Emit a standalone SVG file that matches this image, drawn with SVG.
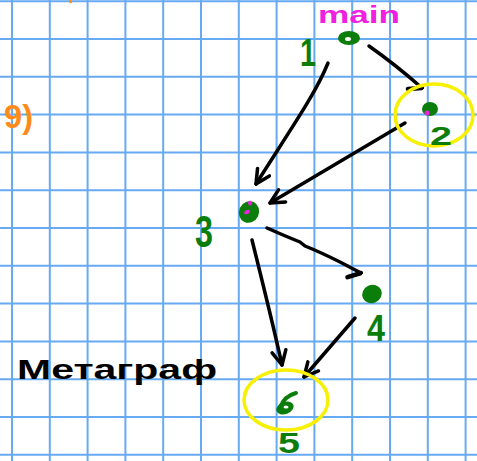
<svg xmlns="http://www.w3.org/2000/svg" width="477" height="461" viewBox="0 0 477 461">
<style>
.grid{stroke:#66aaf2;stroke-width:2;fill:none}
.edge{stroke:#000;stroke-width:3.5;fill:none;stroke-linecap:round;stroke-linejoin:round}
.dot{fill:#0a7d0a}
.mag{fill:#f020e0}
.ring{fill:none;stroke:#f7f000;stroke-width:3.5}
.num{fill:#0a7d0a;font-family:"Liberation Sans",Arial,sans-serif;font-weight:bold}
.hand{font-family:"Liberation Sans",Arial,sans-serif;font-weight:bold}
</style>
<defs>
<marker id="v" viewBox="0 0 18 18" refX="16" refY="9" markerWidth="18" markerHeight="18" markerUnits="userSpaceOnUse" orient="auto">
<path d="M2,2 L16,9 L2,16" fill="none" stroke="#000" stroke-width="3.5" stroke-linecap="round" stroke-linejoin="round"/>
</marker>
<marker id="hook" viewBox="0 0 18 18" refX="16" refY="5" markerWidth="18" markerHeight="18" markerUnits="userSpaceOnUse" orient="auto">
<path d="M16,5 L6,15" fill="none" stroke="#000" stroke-width="4.5" stroke-linecap="round"/>
</marker>
</defs>
<rect width="477" height="461" fill="#fff"/>
<path class="grid" d="M12,0V461M49.8,0V461M87.6,0V461M125.4,0V461M163.2,0V461M201,0V461M238.8,0V461M276.6,0V461M314.4,0V461M352.2,0V461M390,0V461M427.8,0V461M465.6,0V461M0,1.2H477M0,39H477M0,76.8H477M0,114.6H477M0,152.4H477M0,190.2H477M0,228H477M0,265.8H477M0,303.6H477M0,341.4H477M0,379.2H477M0,417H477M0,454.8H477"/>
<path d="M70,0 L71,3" stroke="#ff8c1a" stroke-width="2.5" fill="none"/>
<text class="hand" x="4" y="128" font-size="34" fill="#ff8c1a" textLength="29" lengthAdjust="spacingAndGlyphs">9)</text>
<text class="hand" x="17" y="379" font-size="28" fill="#000" textLength="200" lengthAdjust="spacingAndGlyphs">Метаграф</text>
<g id="edges">
<path class="edge" d="M369,46 C386,58 405,73 422,88" marker-end="url(#hook)"/>
<path class="edge" d="M328,63 C315,95 290,130 256,184" marker-end="url(#v)"/>
<path class="edge" d="M405,123 L270,203" marker-end="url(#v)"/>
<path class="edge" d="M267,228 Q285,236 300,242 L305,246 Q320,252 340,262 L361,273" marker-end="url(#hook)"/>
<path class="edge" d="M252,240 C262,280 272,320 282,365" marker-end="url(#v)"/>
<path class="edge" d="M355,318 L304,377" marker-end="url(#v)"/>
</g>
<g id="node1">
<ellipse class="dot" cx="349" cy="38" rx="11" ry="7"/>
<ellipse cx="348" cy="39" rx="3" ry="2" fill="#fff"/>
<text class="hand" x="318" y="23" font-size="24" fill="#f020e0" textLength="82" lengthAdjust="spacingAndGlyphs">main</text>
<text class="num" x="300" y="66" font-size="38" textLength="16" lengthAdjust="spacingAndGlyphs">1</text>
</g>
<g id="node2">
<ellipse class="ring" cx="434" cy="115" rx="39" ry="31"/>
<ellipse class="dot" cx="430" cy="109" rx="8" ry="7"/>
<circle class="mag" cx="427" cy="113" r="2.5"/>
<text class="num" x="430" y="145" font-size="25" textLength="22" lengthAdjust="spacingAndGlyphs">2</text>
</g>
<g id="node3">
<ellipse class="dot" cx="249" cy="212" rx="10" ry="11" transform="rotate(25 249 212)"/>
<ellipse class="mag" cx="250" cy="203" rx="2" ry="2.5"/>
<ellipse class="mag" cx="247" cy="212" rx="3" ry="2" transform="rotate(-25 247 212)"/>
<text class="num" x="195" y="247" font-size="44" textLength="18" lengthAdjust="spacingAndGlyphs">3</text>
</g>
<g id="node4">
<ellipse class="dot" cx="372" cy="294" rx="10" ry="9" transform="rotate(-25 372 294)"/>
<text class="num" x="367" y="341" font-size="36" textLength="18" lengthAdjust="spacingAndGlyphs">4</text>
</g>
<g id="node5">
<ellipse class="ring" cx="286" cy="400" rx="42" ry="30"/>
<ellipse class="dot" cx="285" cy="408" rx="9" ry="6" transform="rotate(-20 285 408)"/>
<path d="M280,408 Q284,396 296,393" fill="none" stroke="#0a7d0a" stroke-width="4" stroke-linecap="round"/>
<ellipse cx="286" cy="407" rx="2.5" ry="1.5" fill="#fff"/>
<text class="num" x="278" y="453" font-size="30" textLength="22" lengthAdjust="spacingAndGlyphs">5</text>
</g>
</svg>
